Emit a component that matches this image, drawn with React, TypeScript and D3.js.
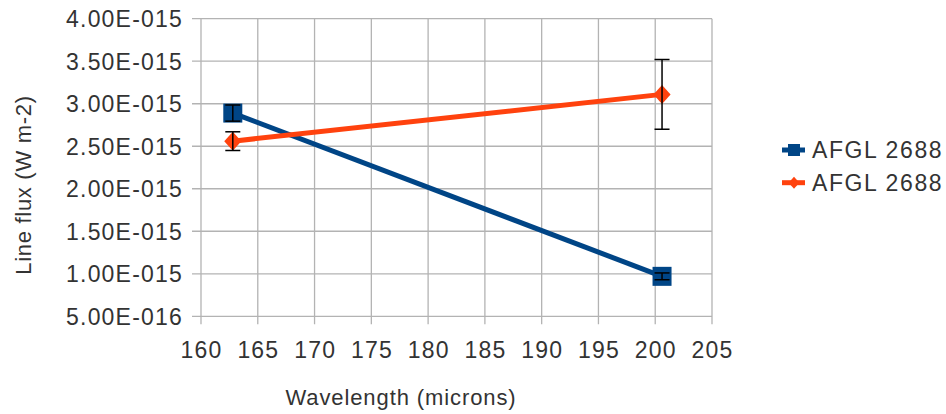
import React from "react";
import * as d3 from "d3";

// wavelengths (microns)
const wavelength = [162.8, 200.6];
// series 1 (blue squares)
const fluxA = [2.89e-15, 0.97e-15];
const errA = [0.095e-15, 0.04e-15];
// series 2 (orange diamonds)
const fluxB = [2.56e-15, 3.11e-15];
const errB = [0.11e-15, 0.41e-15];

const seriesNames = ["AFGL 2688", "AFGL 2688"];
const xTicks = [160, 165, 170, 175, 180, 185, 190, 195, 200, 205];
const yTicks = [5e-16, 1e-15, 1.5e-15, 2e-15, 2.5e-15, 3e-15, 3.5e-15, 4e-15];

const W = 946;
const H = 414;
const margin = { left: 201, right: 234, top: 18.7, bottom: 97.7 };
const blue = "#004586";
const orange = "#ff420e";
const grid = "#b3b3b3";
const txt = "#333333";
const font = "'Liberation Sans', Arial, sans-serif";

const fmt = (v: number) => {
  const e = Math.floor(Math.log10(v) + 1e-9);
  const m = v / Math.pow(10, e);
  const sign = e < 0 ? "-" : "+";
  return `${m.toFixed(2)}E${sign}${String(Math.abs(e)).padStart(3, "0")}`;
};

export default function App() {
  const x = d3.scaleLinear().domain([160, 205]).range([margin.left, W - margin.right]);
  const y = d3.scaleLinear().domain([5e-16, 4e-15]).range([H - margin.bottom, margin.top]);

  const line = d3
    .line<number>()
    .x((_, i) => x(wavelength[i]))
    .y((d) => y(d));

  const series = [
    { vals: fluxA, errs: errA, color: blue, shape: "square" },
    { vals: fluxB, errs: errB, color: orange, shape: "diamond" },
  ];

  const marker = (shape: string, cx: number, cy: number, s: number, color: string, key: string) =>
    shape === "square" ? (
      <rect key={key} x={cx - s / 2} y={cy - s / 2} width={s} height={s} fill={color} />
    ) : (
      <path
        key={key}
        d={`M${cx},${cy - s / 2}L${cx + s * 0.45},${cy}L${cx},${cy + s / 2}L${cx - s * 0.45},${cy}Z`}
        fill={color}
      />
    );

  const x0 = x.range()[0];
  const x1 = x.range()[1];
  const yb = y.range()[0];
  const yt = y.range()[1];

  return (
    <svg
      width={W}
      height={H}
      style={{ position: "absolute", left: 0, top: 0, background: "#fff" }}
      fontFamily={font}
    >
      {/* grid */}
      {yTicks.map((t) => (
        <line key={"g" + t} x1={x0 - 9} x2={x1} y1={y(t)} y2={y(t)} stroke={grid} strokeWidth={1.3} />
      ))}
      {xTicks.map((t) => (
        <line key={"v" + t} x1={x(t)} x2={x(t)} y1={yt} y2={yb + 8} stroke={grid} strokeWidth={1.3} />
      ))}

      {/* y tick labels */}
      {yTicks.map((t) => (
        <text
          key={"yl" + t}
          x={183}
          y={y(t) + 8.3}
          textAnchor="end"
          fontSize={23}
          letterSpacing={1.2}
          fill={txt}
        >
          {fmt(t)}
        </text>
      ))}
      {/* x tick labels */}
      {xTicks.map((t) => (
        <text
          key={"xl" + t}
          x={x(t) + 0.6}
          y={358}
          textAnchor="middle"
          fontSize={23}
          letterSpacing={1.2}
          fill={txt}
        >
          {t}
        </text>
      ))}

      {/* axis titles */}
      <text x={401} y={405} textAnchor="middle" fontSize={22} letterSpacing={0.9} fill={txt}>
        Wavelength (microns)
      </text>
      <text
        transform="translate(31,185) rotate(-90)"
        textAnchor="middle"
        fontSize={22}
        letterSpacing={0.7}
        fill={txt}
      >
        Line flux (W m-2)
      </text>

      {/* lines */}
      {series.map((s, i) => (
        <path key={"l" + i} d={line(s.vals) || ""} fill="none" stroke={s.color} strokeWidth={5} />
      ))}

      {/* markers */}
      {series.map((s, i) =>
        s.vals.map((v, j) => marker(s.shape, x(wavelength[j]), y(v), 19, s.color, `m${i}${j}`))
      )}

      {/* error bars */}
      {series.map((s, i) =>
        s.vals.map((v, j) => {
          const cx = x(wavelength[j]);
          const top = y(v + s.errs[j]);
          const bot = y(v - s.errs[j]);
          return (
            <g key={`e${i}${j}`} stroke="#000" strokeWidth={1.5}>
              <line x1={cx} x2={cx} y1={top} y2={bot} />
              <line x1={cx - 7.5} x2={cx + 7.5} y1={top} y2={top} />
              <line x1={cx - 7.5} x2={cx + 7.5} y1={bot} y2={bot} />
            </g>
          );
        })
      )}

      {/* legend */}
      {series.map((s, i) => {
        const ly = 150 + i * 32.7;
        return (
          <g key={"lg" + i}>
            <line x1={782} x2={805} y1={ly} y2={ly} stroke={s.color} strokeWidth={5} />
            {marker(s.shape, 794, ly, 12, s.color, "lm" + i)}
            <text x={812} y={ly + 8.3} fontSize={23} letterSpacing={1.6} fill={txt}>
              {seriesNames[i]}
            </text>
          </g>
        );
      })}
    </svg>
  );
}
